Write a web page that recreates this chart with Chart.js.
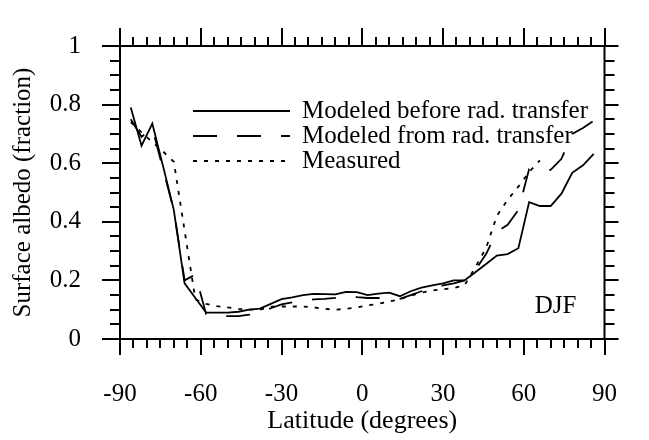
<!DOCTYPE html>
<html>
<head>
<meta charset="utf-8">
<title>Surface albedo DJF</title>
<script src="https://cdn.jsdelivr.net/npm/chart.js@4.4.1/dist/chart.umd.min.js"></script>
<style>
  html, body { margin: 0; padding: 0; background: #fff; }
  #wrap { width: 649px; height: 440px; }
</style>
</head>
<body>
<div id="wrap"><canvas id="albedoChart" width="649" height="440"></canvas></div>
<script>
// latitude grid (degrees)
const latitudes = [-86, -82, -78, -74, -70, -66, -62, -58, -54, -50, -46, -42, -38, -34, -30, -26, -22, -18, -14, -10, -6, -2,
                   2, 6, 10, 14, 18, 22, 26, 30, 34, 38, 42, 46, 50, 54, 58, 62, 66, 70, 74, 78, 82, 86];

// surface albedo (fraction)
const modeledBefore = [0.79, 0.66, 0.735, 0.59, 0.44, 0.19, 0.14, 0.09, 0.09, 0.09, 0.093, 0.10, 0.104, 0.12, 0.136, 0.142, 0.15, 0.154, 0.153, 0.152, 0.161, 0.16,
                       0.15, 0.155, 0.158, 0.146, 0.163, 0.175, 0.183, 0.19, 0.20, 0.20, 0.228, 0.256, 0.285, 0.29, 0.31, 0.467, 0.454, 0.454, 0.496, 0.567, 0.593, 0.632];
const modeledFromRT = [0.75, 0.69, 0.72, 0.58, 0.44, 0.20, 0.22, 0.085, 0.078, 0.078, 0.078, 0.083, 0.09, 0.105, 0.118, 0.125, 0.13, 0.135, 0.137, 0.14, 0.147, 0.143,
                       0.14, 0.14, 0.138, 0.137, 0.15, 0.163, 0.173, 0.183, 0.19, 0.20, 0.235, 0.29, 0.365, 0.39, 0.44, 0.58, 0.58, 0.577, 0.615, 0.70, 0.72, 0.745];
const measured = [0.74, 0.705, 0.672, 0.64, 0.605, 0.37, 0.135, 0.12, 0.112, 0.108, 0.103, 0.10, 0.10, 0.11, 0.111, 0.111, 0.111, 0.108, 0.103, 0.10, 0.103, 0.108,
                  0.115, 0.12, 0.128, 0.136, 0.148, 0.158, 0.165, 0.17, 0.174, 0.183, 0.245, 0.31, 0.42, 0.475, 0.52, 0.57, 0.61, null, null, null, null, null];

const seriesNames = ['Modeled before rad. transfer', 'Modeled from rad. transfer', 'Measured'];
const xTicks = [-90, -60, -30, 0, 30, 60, 90];
const yTicks = [0, 0.2, 0.4, 0.6, 0.8, 1];
const seasonLabel = 'DJF';

const serif = 'Liberation Serif, Times New Roman, serif';

function toPoints(values) {
    return latitudes.map((lat, i) => ({ x: lat, y: values[i] }));
}

// frame, outward major/minor ticks on all four sides, legend and season tag
const framePlugin = {
    id: 'framePlugin',
    afterDraw(chart) {
        const { ctx, chartArea: a, scales: { x, y } } = chart;
        ctx.save();
        ctx.strokeStyle = '#000';
        ctx.lineWidth = 2;
        ctx.strokeRect(a.left, a.top, a.right - a.left, a.bottom - a.top);

        ctx.beginPath();
        for (let v = x.min; v <= x.max; v += 5) {
            const px = Math.round(x.getPixelForValue(v));
            const major = v % 30 === 0;
            ctx.moveTo(px, a.bottom);
            ctx.lineTo(px, a.bottom + (major ? 16 : 9));
            ctx.moveTo(px, a.top);
            ctx.lineTo(px, a.top - (major ? 18 : 9));
        }
        for (let i = 0; i <= 20; i++) {
            const py = Math.round(y.getPixelForValue(i * 0.05));
            const major = i % 4 === 0;
            ctx.moveTo(a.left, py);
            ctx.lineTo(a.left - (major ? 18 : 10), py);
            ctx.moveTo(a.right, py);
            ctx.lineTo(a.right + (major ? 14 : 10), py);
        }
        ctx.stroke();

        // legend
        ctx.font = '25px ' + serif;
        ctx.fillStyle = '#000';
        ctx.textBaseline = 'middle';
        ctx.textAlign = 'left';
        chart.data.datasets.forEach((ds, i) => {
            const ly = a.top + 65 + i * 25;
            ctx.beginPath();
            ctx.lineWidth = ds.borderWidth;
            ctx.setLineDash(ds.borderDash || []);
            ctx.moveTo(193, ly);
            ctx.lineTo(290, ly);
            ctx.stroke();
            ctx.setLineDash([]);
            ctx.fillText(ds.label, 302, ly);
        });

        ctx.textAlign = 'center';
        ctx.textBaseline = 'alphabetic';
        ctx.fillText(seasonLabel, a.right - 49, a.bottom - 26);
        ctx.restore();
    }
};

const ctx = document.getElementById('albedoChart').getContext('2d');
new Chart(ctx, {
    type: 'line',
    data: {
        datasets: [
            { label: seriesNames[0], data: toPoints(modeledBefore), borderColor: '#000', borderWidth: 1.8, borderDash: [] },
            { label: seriesNames[1], data: toPoints(modeledFromRT), borderColor: '#000', borderWidth: 1.8, borderDash: [24, 20] },
            { label: seriesNames[2], data: toPoints(measured), borderColor: '#000', borderWidth: 1.8, borderDash: [4, 7] }
        ]
    },
    options: {
        responsive: false,
        animation: false,
        devicePixelRatio: 1,
        spanGaps: false,
        elements: { point: { radius: 0 }, line: { tension: 0, fill: false } },
        layout: { padding: { top: 31, right: 18, left: 0, bottom: 0 } },
        plugins: { legend: { display: false }, tooltip: { enabled: false } },
        scales: {
            x: {
                type: 'linear',
                min: -90,
                max: 90,
                afterBuildTicks: s => { s.ticks = xTicks.map(v => ({ value: v })); },
                afterFit: s => { s.height = 101; },
                grid: { display: false },
                border: { display: false },
                ticks: { color: '#000', font: { family: serif, size: 25 }, padding: 32, maxRotation: 0, autoSkip: false,
                         callback: v => String(v) },
                title: { display: true, text: 'Latitude (degrees)', color: '#000', font: { family: serif, size: 26 }, padding: { top: 0, bottom: 3 } }
            },
            y: {
                min: 0,
                max: 1,
                afterBuildTicks: s => { s.ticks = yTicks.map(v => ({ value: v })); },
                afterFit: s => { s.width = 120; },
                grid: { display: false },
                border: { display: false },
                ticks: { color: '#000', font: { family: serif, size: 25 }, padding: 31,
                         callback: v => String(Math.round(v * 10) / 10) },
                title: { display: true, text: 'Surface albedo (fraction)', color: '#000', font: { family: serif, size: 25 }, padding: { top: 8, bottom: 0 } }
            }
        }
    },
    plugins: [framePlugin]
});
</script>
</body>
</html>
